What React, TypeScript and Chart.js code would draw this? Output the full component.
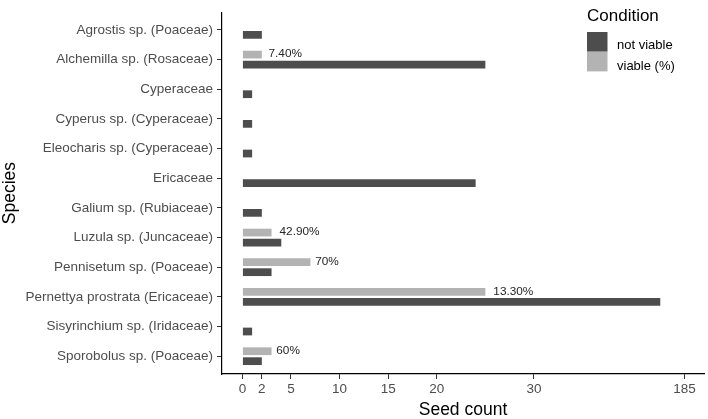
import React, { useEffect, useRef } from "react";
import { Chart, registerables, LinearScale } from "chart.js";

Chart.register(...registerables);

const species = [
  "Agrostis sp. (Poaceae)",
  "Alchemilla sp. (Rosaceae)",
  "Cyperaceae",
  "Cyperus sp. (Cyperaceae)",
  "Eleocharis sp. (Cyperaceae)",
  "Ericaceae",
  "Galium sp. (Rubiaceae)",
  "Luzula sp. (Juncaceae)",
  "Pennisetum sp. (Poaceae)",
  "Pernettya prostrata (Ericaceae)",
  "Sisyrinchium sp. (Iridaceae)",
  "Sporobolus sp. (Poaceae)",
];
const notViable = [2, 25, 1, 1, 1, 24, 2, 4, 3, 160, 1, 2];
const viable = [0, 2, 0, 0, 0, 0, 0, 3, 7, 25, 0, 3];
const viableLabels = ["", "7.40%", "", "", "", "", "", "42.90%", "70%", "13.30%", "", "60%"];
const xTicks = [0, 2, 5, 10, 15, 20, 30, 185];
const legendItems = ["not viable", "viable (%)"];

const SQUISH_FROM = 30;
const SQUISH_FACTOR = 10;
const fwd = (v: any) => (v === null || v === undefined ? v : v <= SQUISH_FROM ? v : SQUISH_FROM + (v - SQUISH_FROM) / SQUISH_FACTOR);
const inv = (t: number) => (t <= SQUISH_FROM ? t : SQUISH_FROM + (t - SQUISH_FROM) * SQUISH_FACTOR);

class SquishScale extends LinearScale {
  static id = "squish";
  static defaults = LinearScale.defaults;
  getPixelForValue(value: any) {
    return super.getPixelForValue(fwd(value));
  }
  getValueForPixel(pixel: number) {
    return inv(super.getValueForPixel(pixel) as number);
  }
}
Chart.register(SquishScale as any);

const FONT = "'Liberation Sans', Arial, Helvetica, sans-serif";
const DARK = "#4D4D4D";
const LIGHT = "#B3B3B3";

const labelPlugin = {
  id: "barLabels",
  afterDatasetsDraw(chart: any) {
    const ctx = chart.ctx;
    const meta = chart.getDatasetMeta(0);
    ctx.save();
    ctx.font = `11.8px ${FONT}`;
    ctx.fillStyle = "#262626";
    ctx.textAlign = "left";
    ctx.textBaseline = "middle";
    meta.data.forEach((bar: any, i: number) => {
      const lbl = viableLabels[i];
      if (!lbl) return;
      const w = ctx.measureText(lbl).width;
      ctx.fillText(lbl, bar.x + 0.2 * w, bar.y - 0.5);
    });
    ctx.restore();
  },
};

const legendPlugin = {
  id: "customLegend",
  afterDraw(chart: any) {
    const ctx = chart.ctx;
    ctx.save();
    ctx.textAlign = "left";
    ctx.textBaseline = "alphabetic";
    ctx.fillStyle = "#000";
    ctx.font = `17px ${FONT}`;
    ctx.fillText("Condition", 587, 21);
    const colors = [DARK, LIGHT];
    const tops = [32, 51.7];
    const baselines = [48.5, 70];
    legendItems.forEach((txt, i) => {
      ctx.fillStyle = colors[i];
      ctx.fillRect(587, tops[i], 20.5, 19.7);
      ctx.fillStyle = "#000";
      ctx.font = `13px ${FONT}`;
      ctx.fillText(txt, 617, baselines[i]);
    });
    ctx.restore();
  },
};

export default function App() {
  const ref = useRef<HTMLCanvasElement | null>(null);
  useEffect(() => {
    if (!ref.current) return;
    const chart = new Chart(ref.current, {
      type: "bar",
      data: {
        datasets: [
          {
            label: legendItems[1],
            data: viable.map((v, i) => ({ x: v, y: i })),
            backgroundColor: LIGHT,
            borderWidth: 0,
          },
          {
            label: legendItems[0],
            data: notViable.map((v, i) => ({ x: v, y: i })),
            backgroundColor: DARK,
            borderWidth: 0,
          },
        ],
      } as any,
      options: {
        animation: false,
        responsive: false,
        maintainAspectRatio: false,
        indexAxis: "y",
        categoryPercentage: 0.67,
        barPercentage: 0.78,
        layout: { padding: { top: 3, right: 4, left: 0, bottom: 0 } },
        plugins: {
          legend: { display: false },
          tooltip: { enabled: false },
        },
        scales: {
          x: {
            type: "squish" as any,
            min: -2.1,
            max: 47.5,
            bounds: "data",
            afterBuildTicks: (s: any) => {
              s.ticks = xTicks.map((v) => ({ value: v }));
            },
            afterFit: (s: any) => {
              s.height = 45;
            },
            grid: { drawOnChartArea: false, drawTicks: true, tickLength: 5, color: "#333", lineWidth: 1 },
            border: { display: true, color: "#000", width: 1.2 },
            ticks: {
              autoSkip: false,
              maxRotation: 0,
              padding: 2.5,
              color: "#4D4D4D",
              font: { family: FONT, size: 13.5 },
              callback: (v: any) => String(v),
            },
            title: {
              display: true,
              text: "Seed count",
              color: "#000",
              font: { family: FONT, size: 17.5, lineHeight: 18 / 17.5 },
              padding: 0,
            },
          },
          y: {
            type: "linear",
            min: -0.6,
            max: 11.6,
            reverse: true,
            offset: false,
            bounds: "data",
            afterBuildTicks: (s: any) => {
              s.ticks = species.map((_, i) => ({ value: i }));
            },
            afterFit: (s: any) => {
              s.width = 222;
            },
            grid: { drawOnChartArea: false, drawTicks: true, tickLength: 5, color: "#333", lineWidth: 1, offset: false },
            border: { display: true, color: "#000", width: 1.2 },
            ticks: {
              autoSkip: false,
              padding: 4,
              color: "#4D4D4D",
              font: { family: FONT, size: 13.5 },
              callback: (v: any) => species[v] ?? "",
            },
            title: {
              display: true,
              text: "Species",
              color: "#000",
              font: { family: FONT, size: 17.5, lineHeight: 1.2 },
              padding: 0,
            },
          },
        },
      } as any,
      plugins: [labelPlugin, legendPlugin],
    });
    return () => chart.destroy();
  }, []);
  return (
    <div style={{ position: "absolute", left: 0, top: 0, width: 708, height: 419, background: "#fff" }}>
      <canvas ref={ref} width={708} height={419} style={{ display: "block", width: 708, height: 419 }} />
    </div>
  );
}
